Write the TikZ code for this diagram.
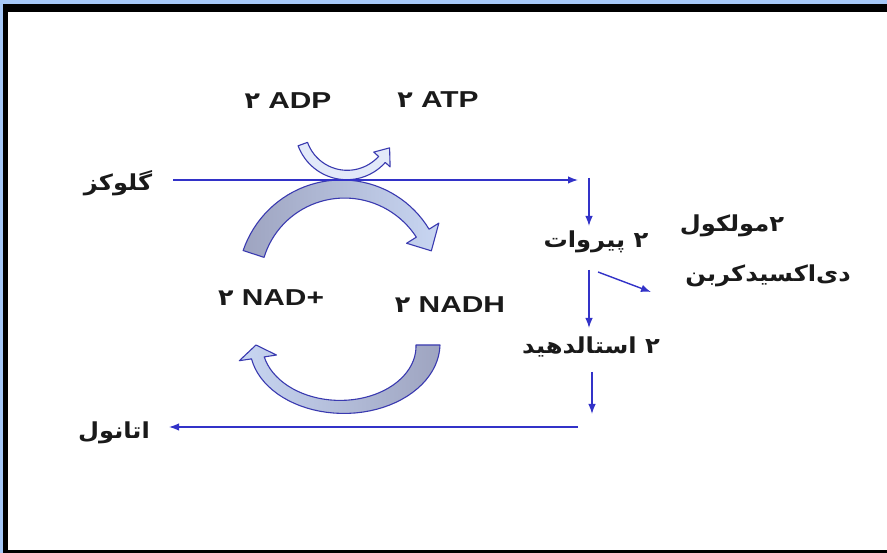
\documentclass[tikz,border=0pt]{standalone}
\usepackage{fontspec}
\usetikzlibrary{arrows.meta}
\setmainfont{Liberation Sans}
\newfontfamily\lat[FakeStretch=1.3]{Liberation Sans}
\newfontfamily\ar[Script=Arabic,FakeStretch=1.1]{DejaVu Sans}
\TeXXeTstate=1
\definecolor{bgblue}{RGB}{166,200,247}
\definecolor{lineblue}{RGB}{50,50,200}
\definecolor{edgeblue}{RGB}{58,58,176}
\definecolor{endgray}{RGB}{158,164,192}
\definecolor{lightfill}{RGB}{200,214,242}
\definecolor{paleblue}{RGB}{226,233,249}
\definecolor{txt}{RGB}{26,26,26}
% tapered curved block arrow: cx, cy, r, a0, a1, w0, w1, head half width, tip angle
\newcommand\bandpath[9]{%
  plot[domain=#4:#5,samples=40,variable=\t]
    ({#1+(#3+(#6+(#7-#6)*(\t-#4)/(#5-#4))/2)*cos(\t)},{#2+(#3+(#6+(#7-#6)*(\t-#4)/(#5-#4))/2)*sin(\t)})
  -- ({#1+(#3+#8)*cos(#5)},{#2+(#3+#8)*sin(#5)})
  -- ({#1+#3*cos(#9)},{#2+#3*sin(#9)})
  -- ({#1+(#3-#8)*cos(#5)},{#2+(#3-#8)*sin(#5)})
  -- plot[domain=#5:#4,samples=40,variable=\t]
    ({#1+(#3-(#6+(#7-#6)*(\t-#4)/(#5-#4))/2)*cos(\t)},{#2+(#3-(#6+(#7-#6)*(\t-#4)/(#5-#4))/2)*sin(\t)})
  -- cycle}
\begin{document}
\begin{tikzpicture}[x=1pt,y=-1pt,
  lbl/.style={text=txt,inner sep=0pt,font=\lat\bfseries\fontsize{23}{26}\selectfont},
  farsi/.style={text=txt,inner sep=0pt,font=\ar\bfseries\fontsize{22}{26}\selectfont},
  conn/.style={draw=lineblue,line width=1.4pt,-{Latex[length=10pt,width=7.5pt]}},
  band/.style={draw=edgeblue,line width=1.1pt,line join=round}]
\useasboundingbox (0,0) rectangle (887,553);
\fill[bgblue] (0,0) rectangle (887,553);
\fill[black] (3,4) rectangle (887,553);
\fill[white] (8,12) rectangle (887,550);

% block arrows
\path[band,left color=endgray,middle color=lightfill,right color=lightfill]
  \bandpath{343}{283}{94}{-162}{-32}{22}{15}{19}{-20};
\path[band,fill=paleblue]
  \bandpath{347}{128}{47}{160}{42}{10}{9}{11}{25};
\begin{scope}[shift={(342,345)},yscale=0.72]
\path[band,left color=lightfill,middle color=lightfill,right color=endgray]
  \bandpath{0}{0}{86}{0}{168}{24}{13}{19}{180};
\end{scope}

% labels
\node[lbl] (adp) at (288,101) {{\ar\bfseries ۲}\ ADP};
\node[lbl] (atp) at (438,100) {{\ar\bfseries ۲}\ ATP};
\node[lbl] (nad) at (271,298) {{\ar\bfseries ۲}\ NAD+};
\node[lbl] (nadh) at (450,305) {{\ar\bfseries ۲}\ NADH};
\node[farsi] (glu) at (118,183) {\beginR گلوکز\endR};
\node[farsi] (pyr) at (596,242) {\beginR ۲ پیروات\endR};
\node[farsi] (mol) at (732,226) {\beginR ۲مولکول\endR};
\node[farsi] (co2) at (768,276) {\beginR دی‌اکسیدکربن\endR};
\node[farsi] (acet) at (591,347) {\beginR ۲ استالدهید\endR};
\node[farsi] (eth) at (114,433) {\beginR اتانول\endR};

% connectors
\coordinate (gs) at (173,180); \coordinate (ge) at (578,180);
\coordinate (v1s) at (589,178); \coordinate (v1e) at (589,226);
\coordinate (v2s) at (589,270); \coordinate (v2e) at (589,328);
\coordinate (ds) at (598,272); \coordinate (de) at (651,292);
\coordinate (v3s) at (592,372); \coordinate (v3e) at (592,414);
\coordinate (bs) at (578,427); \coordinate (be) at (169,427);
\draw[conn] (gs) -- (ge);
\draw[conn] (v1s) -- (v1e);
\draw[conn] (v2s) -- (v2e);
\draw[conn] (ds) -- (de);
\draw[conn] (v3s) -- (v3e);
\draw[conn] (bs) -- (be);
\end{tikzpicture}
\end{document}
